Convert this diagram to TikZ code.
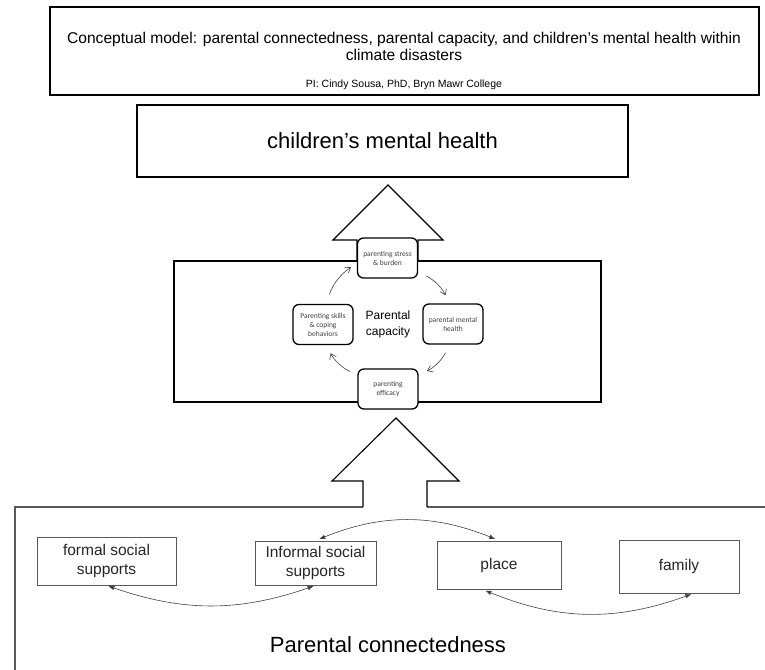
\documentclass[tikz,border=0pt]{standalone}
\usepackage{fontspec}
\setmainfont{Liberation Sans}
\newfontfamily\calib{Carlito}
\usetikzlibrary{positioning,arrows.meta,calc}
\definecolor{ink}{HTML}{000000}
\definecolor{frame}{HTML}{595959}
\definecolor{note}{HTML}{404040}
\tikzset{
  cyclebox/.style={rounded corners=6pt,draw=ink,line width=1.3pt,fill=white,
                   minimum width=60pt,minimum height=40pt,align=center,inner sep=1pt,
                   font=\calib\fontsize{7.5}{9}\selectfont,text=note},
  linkbox/.style={draw=frame,line width=0.9pt,fill=white,align=center,inner sep=2pt,
                  font=\fontsize{15.5}{19.5}\selectfont,text=black!85},
  bigarrow/.style={draw=ink,line width=1.1pt,fill=white,line join=miter},
  cycarrow/.style={-{Straight Barb[length=5pt,width=7pt]},line width=0.6pt,color=note},
  linkarrow/.style={{Latex[length=6pt,width=4.5pt]}-{Latex[length=6pt,width=4.5pt]},
                    line width=0.6pt,color=note},
}

\begin{document}
\begin{tikzpicture}[x=1pt,y=-1pt]
    \useasboundingbox (0,0) rectangle (765,669);
    % Title
    \node[draw=ink,line width=1.2pt,minimum width=709pt,minimum height=88pt] (title) at (404.5,51) {};
    \node[font=\fontsize{15.6}{17}\selectfont,align=center] (head) at (404,46.5)
      {Conceptual model: parental connectedness, parental capacity, and children’s mental health within\\
       climate disasters};
    \node[font=\fontsize{10.5}{12}\selectfont] (pi) at (404,85) {PI: Cindy Sousa, PhD, Bryn Mawr College};
    % Outcome
    \node[draw=ink,line width=1.8pt,minimum width=491pt,minimum height=72pt,
          font=\fontsize{22}{26}\selectfont] (child) at (382.5,141) {children’s mental health};
    % Parental capacity
    \node[draw=ink,line width=1.3pt,minimum width=427pt,minimum height=141pt] (cap) at (387.5,331.5) {};
    \draw[bigarrow] (357,261) -- (357,240) -- (333,240) -- (388,185) -- (443,240) -- (418,240)
      -- (418,261) -- cycle;
    \node[font=\fontsize{12}{16}\selectfont,align=center] (caplab) at (388,324) {Parental\\capacity};
    \node[cyclebox] (stress) at (387.5,258) {parenting stress\\\& burden};
    \node[cyclebox] (mental) at (453,324) {parental mental\\health};
    \node[cyclebox] (efficacy) at (388,389) {parenting\\efficacy};
    \node[cyclebox] (skills) at (323,324.5) {Parenting skills\\\& coping\\behaviors};
    \draw[cycarrow,shorten <=10pt,shorten >=7pt] (skills.80) to[bend left=20] (stress.190);
    \draw[cycarrow,shorten <=9pt,shorten >=9pt] (stress.-25) to[bend left=20] (mental.100);
    \draw[cycarrow,shorten <=9pt,shorten >=9pt] (mental.260) to[bend left=20] (efficacy.25);
    \draw[cycarrow,shorten <=8pt,shorten >=9pt] (efficacy.155) to[bend left=20] (skills.280);
    % Parental connectedness
    \draw[draw=frame,line width=1.5pt] (15,670) -- (15,507) -- (363,507);
    \draw[draw=frame,line width=1.5pt] (427,507) -- (766,507);
    \draw[bigarrow,fill=none] (363,507) -- (363,481) -- (332,481) -- (396,418) -- (459,481)
      -- (427,481) -- (427,507);
    \node[linkbox,minimum width=139pt,minimum height=48pt] (formal) at (106.5,561) {formal social\\supports};
    \node[linkbox,minimum width=121pt,minimum height=44pt] (informal) at (315.5,563) {Informal social\\supports};
    \node[linkbox,minimum width=124pt,minimum height=48pt] (place) at (499,565) {place};
    \node[linkbox,minimum width=120pt,minimum height=53pt] (family) at (679,566.5) {family};
    \draw[linkarrow,shorten <=2pt,shorten >=2pt] (formal.south) to[bend right=19] (informal.south);
    \draw[linkarrow,shorten <=4pt,shorten >=4pt] (informal.north) to[bend left=22] (place.north);
    \draw[linkarrow,shorten <=3pt,shorten >=2pt] (place.236) to[bend right=21] (family.298);
    \node[font=\fontsize{22}{26}\selectfont] (conn) at (388,645) {Parental connectedness};
\end{tikzpicture}
\end{document}
